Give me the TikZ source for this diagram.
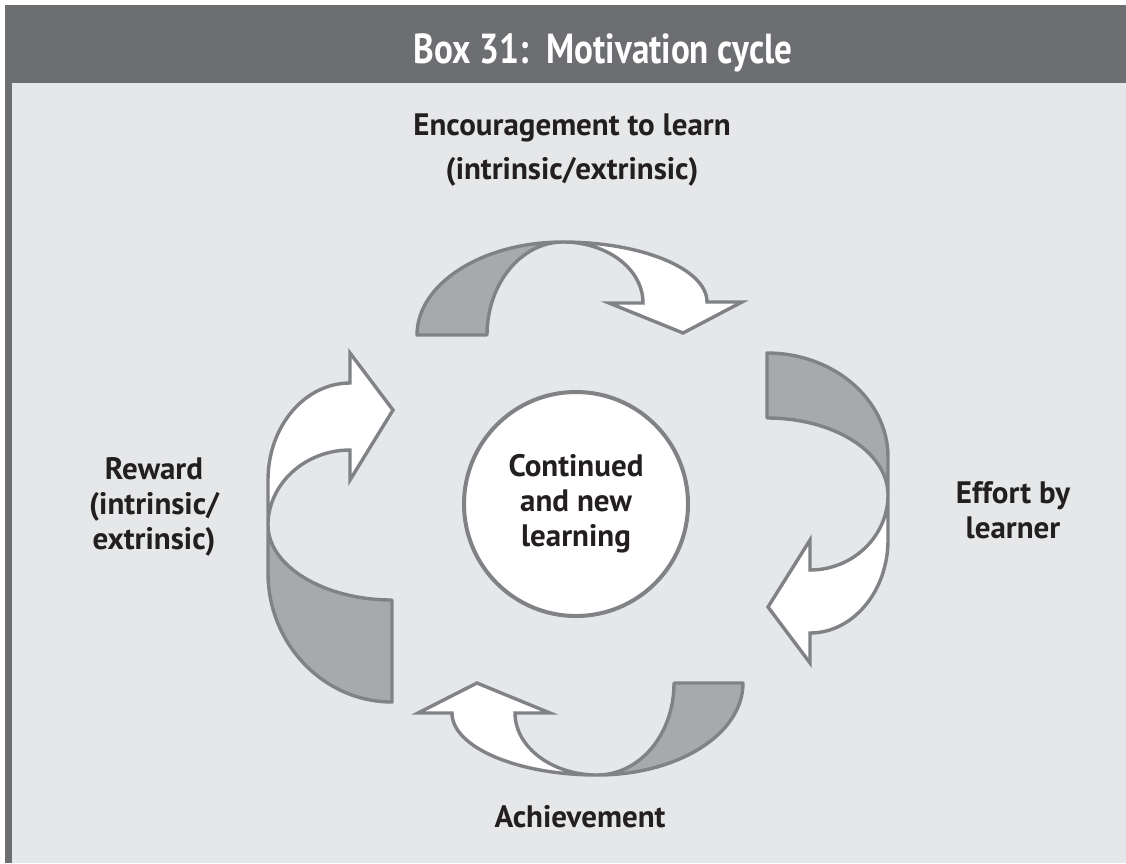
\documentclass[tikz,border=0pt]{standalone}
\usepackage{fontspec}
\setmainfont{PT Sans}
\definecolor{hdr}{HTML}{6D6E71}
\definecolor{bodybg}{HTML}{E6E7E8}
\definecolor{edge}{HTML}{808285}
\definecolor{back}{HTML}{A7A9AC}
\definecolor{ink}{HTML}{231F20}
\begin{document}
\begin{tikzpicture}[x=1pt,y=-1pt,
  backside/.style={fill=back,draw=edge,line width=3.4pt,line join=round},
  frontside/.style={fill=white,draw=edge,line width=3.4pt,line join=miter},
  lbl/.style={font=\bfseries\fontsize{31}{35}\selectfont,text=ink,align=center,inner sep=0pt}]
\useasboundingbox (0,0) rectangle (1126,863);
\fill[white] (0,0) rectangle (1126,863);
\fill[hdr] (5,5) rectangle (1126,83);
\fill[hdr] (5,83) rectangle (12,863);
\fill[bodybg] (12,83) rectangle (1126,863);
\node[anchor=base,text=white,font=\bfseries\fontsize{42}{50}\selectfont,inner sep=0pt] (title) at (603,63) {\scalebox{0.836}[1]{Box 31:\ \ Motivation cycle}};

% centre
\node[circle,draw=edge,line width=4pt,fill=white,minimum size=224pt] (c) at (576,504) {};
\node[lbl] (ct) at (c.center) {Continued\\and new\\learning};

% top arrow
\path[backside] (417,335) .. controls (417,284) and (482,242) .. (563,242)
  .. controls (521,242) and (487,284) .. (487,335) -- cycle;
\path[frontside] (563,242) .. controls (642,242) and (707,269) .. (707,302)
  -- (742,302) -- (683,333) -- (609,303) -- (643,303)
  .. controls (643,269) and (607,242) .. (563,242) -- cycle;

% right arrow
\path[backside] (767,353) .. controls (834,353) and (888,400) .. (888,457) -- (888,495)
  .. controls (888,452) and (834,418) .. (767,418) -- cycle;
\path[frontside] (888,495) -- (888,540) .. controls (888,591) and (853,633) .. (810,633)
  -- (810,663) -- (768,607) -- (810,540) -- (810,570)
  .. controls (853,570) and (888,536) .. (888,495) -- cycle;

% bottom arrow
\path[backside] (743,683) .. controls (743,734) and (678,775) .. (597,775)
  .. controls (640,775) and (674,734) .. (674,683) -- cycle;
\path[frontside] (597,775) .. controls (517,775) and (452,747) .. (452,713)
  -- (418,713) -- (477,683) -- (550,713) -- (515,713)
  .. controls (515,747) and (552,775) .. (597,775) -- cycle;

% left arrow
\path[backside] (392,702) .. controls (324,702) and (268,644) .. (268,573) -- (268,525)
  .. controls (268,566) and (324,600) .. (392,600) -- cycle;
\path[frontside] (268,525) -- (268,480) .. controls (268,426) and (305,383) .. (350,383)
  -- (350,353) -- (393,410) -- (350,480) -- (350,450)
  .. controls (305,450) and (268,484) .. (268,525) -- cycle;

% labels
\node[lbl,font=\bfseries\fontsize{31}{44}\selectfont] (enc) at (572,150) {Encouragement to learn\\(intrinsic/extrinsic)};
\node[lbl] (eff) at (1013,510) {Effort by\\learner};
\node[lbl] (ach) at (580,817) {Achievement};
\node[lbl] (rew) at (154,507) {Reward\\(intrinsic/\\extrinsic)};
\end{tikzpicture}
\end{document}
